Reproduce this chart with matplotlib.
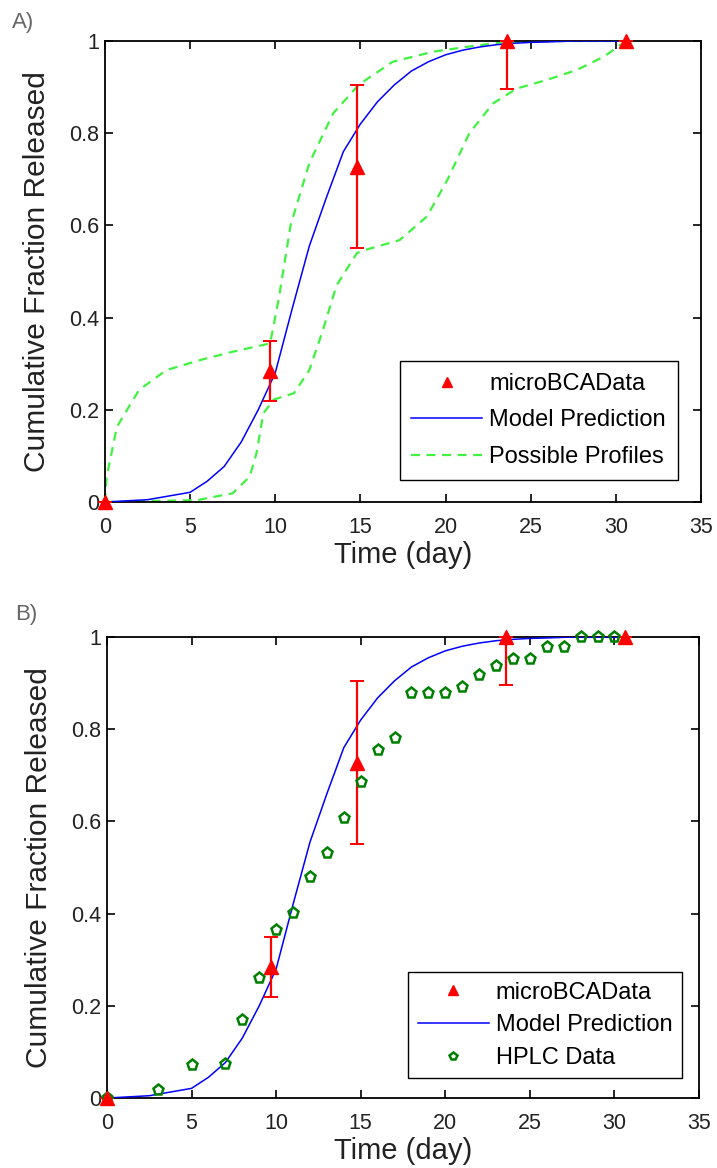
import matplotlib
matplotlib.use("Agg")
import matplotlib.pyplot as plt

plt.rcParams['font.family'] = ['Liberation Sans', 'DejaVu Sans']

# microBCA measurements (with error bars)
bca_t = [0, 9.7, 14.8, 23.6, 30.6]
bca_y = [0, 0.285, 0.727, 1.0, 1.0]
bca_lo = [0, 0.065, 0.177, 0.105, 0]
bca_hi = [0, 0.065, 0.178, 0, 0]

# model prediction
model_t = [0, 2.5, 5, 6, 7, 8, 9, 10, 11, 12, 13, 14, 15, 16, 17, 18, 19,
           20, 21, 22, 23, 24, 25, 26, 27.5, 30.6]
model_y = [0, 0.005, 0.021, 0.045, 0.077, 0.13, 0.2, 0.28, 0.42, 0.555, 0.66,
           0.76, 0.82, 0.868, 0.905, 0.935, 0.955, 0.97, 0.98, 0.987, 0.992,
           0.995, 0.997, 0.998, 1.0, 1.0]

# possible profiles (upper / lower bounding curves)
upper_t = [0, 0.1, 0.7, 2.0, 3.6, 5.6, 7.5, 9.7, 10.2, 10.9, 12.0, 13.4,
           14.9, 16.9, 19.3, 21.4, 23.5, 27, 30.6]
upper_y = [0, 0.055, 0.163, 0.243, 0.286, 0.308, 0.326, 0.344, 0.44, 0.6,
           0.735, 0.843, 0.905, 0.955, 0.977, 0.988, 0.998, 1.0, 1.0]
lower_t = [0, 5.4, 7.5, 8.5, 8.9, 9.3, 9.9, 11.1, 12.0, 12.8, 13.6, 14.8,
           15.3, 17.3, 18.9, 20.1, 21.4, 22.8, 24.2, 25.9, 27.7, 29.3, 30.6]
lower_y = [0, 0.004, 0.019, 0.055, 0.106, 0.192, 0.222, 0.236, 0.286, 0.373,
           0.47, 0.54, 0.547, 0.568, 0.619, 0.698, 0.8, 0.865, 0.897, 0.915,
           0.937, 0.966, 1.0]

# HPLC data
hplc_t = [0, 3, 5, 7, 8, 9, 10, 11, 12, 13, 14, 15, 16, 17, 18, 19, 20, 21,
          22, 23, 24, 25, 26, 27, 28, 29, 30]
hplc_y = [0, 0.017, 0.072, 0.074, 0.169, 0.26, 0.364, 0.402, 0.48, 0.531,
          0.607, 0.686, 0.756, 0.782, 0.878, 0.878, 0.878, 0.892, 0.918, 0.937,
          0.952, 0.952, 0.979, 0.979, 1.0, 1.0, 1.0]

RED = (1, 0, 0)
BLUE = (0, 0, 1)
LIME = (0.25, 0.95, 0.25)
DKGREEN = (0, 0.5, 0)
TXT = '#222222'


def style_axes(ax):
    ax.set_xlim(0, 35)
    ax.set_ylim(0, 1)
    ax.set_xticks(range(0, 36, 5))
    ax.set_yticks([0, 0.2, 0.4, 0.6, 0.8, 1])
    ax.set_yticklabels(['0', '0.2', '0.4', '0.6', '0.8', '1'])
    ax.tick_params(direction='in', length=6, width=1.2, top=True, right=True,
                   labelsize=15.5, colors='black', labelcolor=TXT)
    ax.tick_params(axis='x', pad=11)
    ax.tick_params(axis='y', pad=4)
    for sp in ax.spines.values():
        sp.set_linewidth(1.3)
    ax.set_xlabel('Time (day)', fontsize=21, labelpad=2, color=TXT)
    ax.set_ylabel('Cumulative Fraction Released', fontsize=21.5, labelpad=13,
                  color=TXT)


def draw_bca(ax):
    ax.errorbar(bca_t, bca_y, yerr=[bca_lo, bca_hi], fmt='none', ecolor=RED,
                elinewidth=1.6, capsize=5, capthick=1.4, clip_on=False, zorder=4)
    h, = ax.plot(bca_t, bca_y, '^', color=RED, markersize=9.5, linestyle='none',
                 clip_on=False, zorder=5, label='microBCAData')
    return h


fig = plt.figure(figsize=(7.17, 11.68), dpi=100)

# ---- panel A ----
axA = fig.add_axes([0.1464, 0.5702, 0.8312, 0.3947])
hA = draw_bca(axA)
mA, = axA.plot(model_t, model_y, color=BLUE, lw=1.1, label='Model Prediction',
               zorder=3)
gA, = axA.plot(upper_t, upper_y, '--', color=LIME, lw=1.6,
               label='Possible Profiles', dashes=(4, 3), zorder=2)
axA.plot(lower_t, lower_y, '--', color=LIME, lw=1.6, dashes=(4, 3), zorder=2)
style_axes(axA)
axA.legend(handles=[hA, mA, gA], loc='lower right',
           bbox_to_anchor=(0.961, 0.048), borderaxespad=0, fancybox=False,
           edgecolor='black', framealpha=1, fontsize=17, handlelength=3.0,
           handletextpad=0.3, markerscale=0.7, labelspacing=0.62,
           borderpad=0.5)
fig.text(0.016, 0.990, 'A)', fontsize=16, color='#666666', va='top')

# ---- panel B ----
axB = fig.add_axes([0.1492, 0.0599, 0.8257, 0.3947])
hB = draw_bca(axB)
mB, = axB.plot(model_t, model_y, color=BLUE, lw=1.1, label='Model Prediction',
               zorder=3)
pB, = axB.plot(hplc_t, hplc_y, 'p', mfc='none', mec=DKGREEN, mew=1.8,
               markersize=8, linestyle='none', clip_on=False, zorder=4,
               label='HPLC Data')
style_axes(axB)
axB.legend(handles=[hB, mB, pB], loc='lower right',
           bbox_to_anchor=(0.971, 0.043), borderaxespad=0, fancybox=False,
           edgecolor='black', framealpha=1, fontsize=17, handlelength=3.0,
           handletextpad=0.3, markerscale=0.7, labelspacing=0.45,
           borderpad=0.4)
fig.text(0.021, 0.483, 'B)', fontsize=16, color='#666666', va='top')

fig.savefig('out.png', dpi=100)
